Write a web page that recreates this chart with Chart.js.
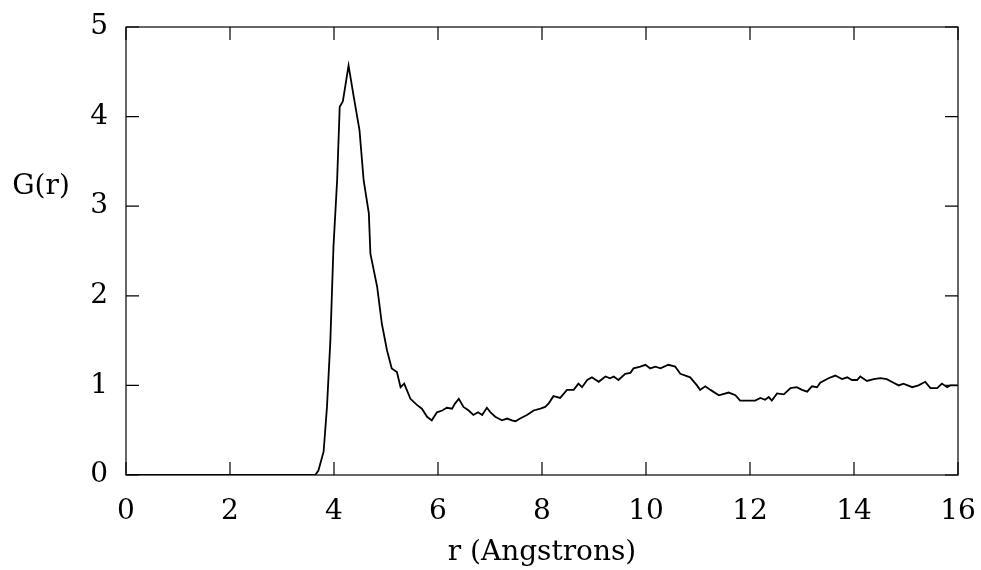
<!DOCTYPE html>
<html>
<head>
<meta charset="utf-8">
<script src="https://cdn.jsdelivr.net/npm/chart.js@4/dist/chart.umd.min.js"></script>
<style>
  body { margin: 0; background: #fff; }
  #wrap { width: 981px; height: 570px; }
</style>
</head>
<body>
<div id="wrap"><canvas id="rdf" width="981" height="570"></canvas></div>
<script>
// Radial distribution function
const rValues = [
    0, 3.64, 3.70, 3.80, 3.865, 3.93, 3.99, 4.06, 4.11, 4.17, 4.28, 4.38, 4.49, 4.57, 4.67, 4.70,
    4.83, 4.92, 5.02, 5.11, 5.21, 5.28, 5.35, 5.47, 5.60, 5.69, 5.79, 5.88, 5.98, 6.08, 6.17,
    6.27, 6.33, 6.40, 6.49, 6.59, 6.68, 6.77, 6.85, 6.94, 7.01, 7.10, 7.23, 7.33, 7.42, 7.49,
    7.58, 7.71, 7.84, 7.97, 8.06, 8.13, 8.22, 8.35, 8.48, 8.61, 8.70, 8.77, 8.87, 8.96, 9.09,
    9.22, 9.31, 9.38, 9.47, 9.60, 9.70, 9.76, 9.89, 9.99, 10.08, 10.18, 10.28, 10.43, 10.56,
    10.66, 10.85, 10.98, 11.04, 11.14, 11.24, 11.40, 11.59, 11.72, 11.81, 11.94, 12.10, 12.20,
    12.29, 12.36, 12.42, 12.52, 12.65, 12.78, 12.90, 13.00, 13.10, 13.19, 13.29, 13.35, 13.51,
    13.64, 13.77, 13.87, 13.96, 14.06, 14.12, 14.25, 14.38, 14.51, 14.63, 14.76, 14.86, 14.95,
    15.12, 15.24, 15.37, 15.47, 15.60, 15.69, 15.79, 15.85, 15.98
];
const gValues = [
    0, 0, 0.05, 0.26, 0.76, 1.50, 2.55, 3.29, 4.11, 4.17, 4.57, 4.22, 3.85, 3.29, 2.92, 2.47,
    2.10, 1.69, 1.39, 1.19, 1.15, 0.98, 1.02, 0.85, 0.78, 0.74, 0.65, 0.61, 0.70, 0.72, 0.75,
    0.74, 0.80, 0.85, 0.76, 0.72, 0.67, 0.70, 0.67, 0.75, 0.70, 0.65, 0.61, 0.63, 0.61, 0.60,
    0.63, 0.67, 0.72, 0.74, 0.76, 0.80, 0.88, 0.86, 0.95, 0.95, 1.02, 0.98, 1.06, 1.09, 1.04,
    1.10, 1.08, 1.10, 1.06, 1.13, 1.14, 1.19, 1.21, 1.23, 1.19, 1.21, 1.19, 1.23, 1.21,
    1.13, 1.09, 1.00, 0.95, 0.99, 0.95, 0.89, 0.92, 0.89, 0.83, 0.83, 0.83, 0.86,
    0.84, 0.87, 0.83, 0.91, 0.90, 0.97, 0.98, 0.95, 0.93, 0.99, 0.98, 1.03, 1.08,
    1.11, 1.07, 1.09, 1.06, 1.06, 1.10, 1.05, 1.07, 1.08, 1.07, 1.03, 1.00, 1.02,
    0.98, 1.00, 1.04, 0.97, 0.97, 1.02, 0.98, 1.00, 1.00
];
const xTicks = [0, 2, 4, 6, 8, 10, 12, 14, 16];
const yTicks = [0, 1, 2, 3, 4, 5];
const xTitle = 'r (Angstrons)';
const yTitle = 'G(r)';

const serif = { family: 'DejaVu Serif', size: 28 };

// box with inward ticks on all four sides, plus the horizontal y title
const framePlugin = {
    id: 'frame',
    afterDraw(chart) {
        const { ctx, chartArea: a, scales: { x, y } } = chart;
        const len = 13;
        ctx.save();
        ctx.strokeStyle = '#000';
        ctx.lineWidth = 1.2;
        ctx.strokeRect(a.left, a.top, a.right - a.left, a.bottom - a.top);
        ctx.beginPath();
        xTicks.forEach(v => {
            const px = x.getPixelForValue(v);
            ctx.moveTo(px, a.bottom); ctx.lineTo(px, a.bottom - len);
            ctx.moveTo(px, a.top); ctx.lineTo(px, a.top + len);
        });
        yTicks.forEach(v => {
            const py = y.getPixelForValue(v);
            ctx.moveTo(a.left, py); ctx.lineTo(a.left + len, py);
            ctx.moveTo(a.right, py); ctx.lineTo(a.right - len, py);
        });
        ctx.stroke();
        ctx.fillStyle = '#000';
        ctx.font = '28px "DejaVu Serif"';
        ctx.textAlign = 'center';
        ctx.textBaseline = 'middle';
        ctx.fillText(yTitle, 41, 187);
        ctx.restore();
    }
};

new Chart(document.getElementById('rdf').getContext('2d'), {
    type: 'line',
    data: {
        datasets: [{
            data: rValues.map((r, i) => ({ x: r, y: gValues[i] })),
            borderColor: '#000',
            borderWidth: 1.8,
            pointRadius: 0,
            tension: 0,
            fill: false
        }]
    },
    options: {
        responsive: false,
        animation: false,
        layout: { padding: { left: 0, top: 27, right: 23, bottom: 0 } },
        plugins: { legend: { display: false }, tooltip: { enabled: false } },
        scales: {
            x: {
                type: 'linear',
                min: 0, max: 16,
                afterFit(s) { s.height = 95; s.paddingLeft = 0; s.paddingRight = 0; },
                afterBuildTicks(s) { s.ticks = xTicks.map(v => ({ value: v })); },
                grid: { display: false, drawTicks: false },
                border: { display: false },
                ticks: { color: '#000', font: serif, padding: 20, maxRotation: 0 },
                title: { display: true, text: xTitle, color: '#000', font: serif, padding: { top: 0, bottom: 0 } }
            },
            y: {
                type: 'linear',
                min: 0, max: 5,
                afterFit(s) { s.width = 126; s.paddingTop = 0; s.paddingBottom = 0; },
                afterBuildTicks(s) { s.ticks = yTicks.map(v => ({ value: v })); },
                grid: { display: false, drawTicks: false },
                border: { display: false },
                ticks: { color: '#000', font: serif, padding: 18 }
            }
        }
    },
    plugins: [framePlugin]
});
</script>
</body>
</html>
